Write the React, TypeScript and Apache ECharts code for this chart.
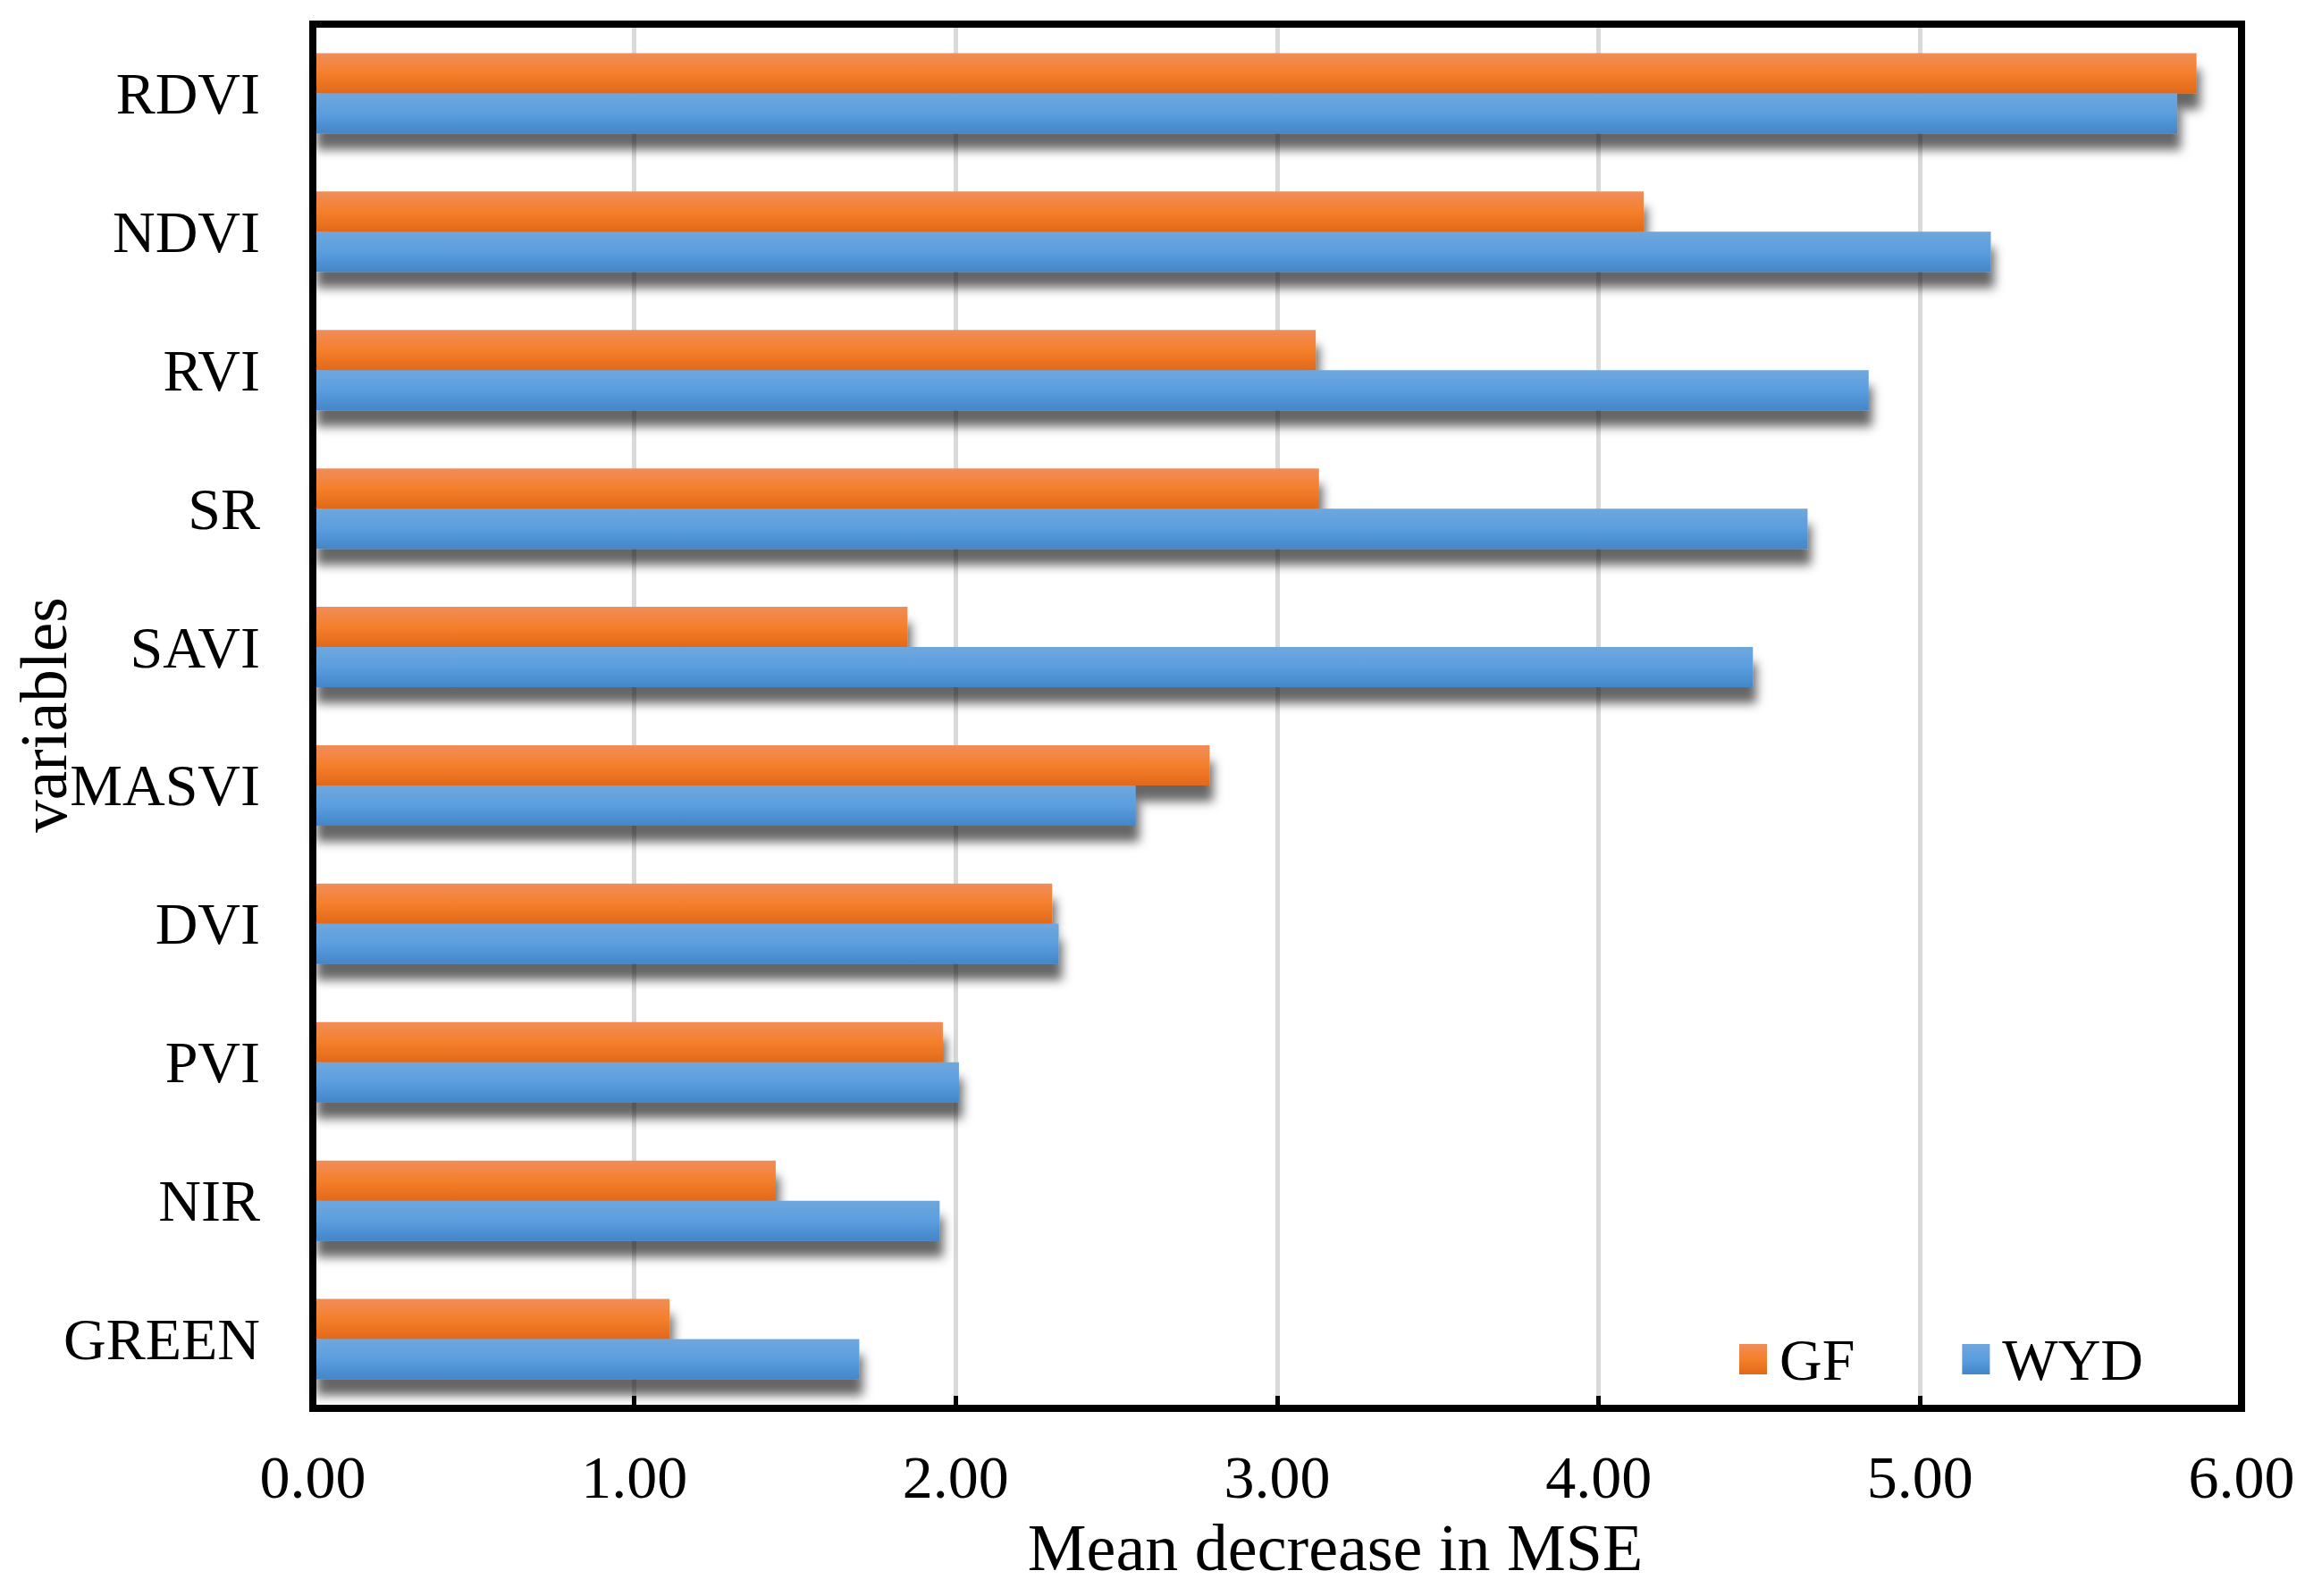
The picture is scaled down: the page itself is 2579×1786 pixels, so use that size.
import React, { useEffect, useRef } from "react";
import * as echarts from "echarts";

const categories = ["RDVI", "NDVI", "RVI", "SR", "SAVI", "MASVI", "DVI", "PVI", "NIR", "GREEN"];
const gfValues = [5.86, 4.14, 3.12, 3.13, 1.85, 2.79, 2.3, 1.96, 1.44, 1.11];
const wydValues = [5.8, 5.22, 4.84, 4.65, 4.48, 2.56, 2.32, 2.01, 1.95, 1.7];
const xTicks = { min: 0, max: 6, interval: 1 };
const seriesNames = ["GF", "WYD"];

const FONT = "'Liberation Serif', 'Times New Roman', serif";

function grad(top: string, mid: string, bottom: string) {
  return new echarts.graphic.LinearGradient(0, 0, 0, 1, [
    { offset: 0, color: top },
    { offset: 0.5, color: mid },
    { offset: 1, color: bottom },
  ]);
}

export default function App() {
  const ref = useRef<HTMLDivElement>(null);
  useEffect(() => {
    if (!ref.current) return;
    const chart = echarts.init(ref.current, undefined, { renderer: "svg" });
    const shadow = {
      shadowColor: "rgba(0,0,0,0.6)",
      shadowBlur: 12,
      shadowOffsetX: 4,
      shadowOffsetY: 18,
    };
    chart.setOption({
      animation: false,
      backgroundColor: "#fff",
      grid: {
        left: 350,
        right: 71,
        top: 27,
        bottom: 210,
        show: true,
        borderColor: "#000",
        borderWidth: 8,
        backgroundColor: "transparent",
        z: 10,
      },
      legend: {
        data: seriesNames,
        left: 1941,
        top: 1483,
        itemWidth: 31,
        itemHeight: 34,
        itemGap: 120,
        icon: "rect",
        itemStyle: { shadowBlur: 0, shadowOffsetX: 0, shadowOffsetY: 0, shadowColor: "transparent" },
        textStyle: { fontFamily: FONT, fontSize: 66, color: "#000", padding: [0, 0, 0, 9] },
      },
      xAxis: {
        type: "value",
        min: xTicks.min,
        max: xTicks.max,
        interval: xTicks.interval,
        axisLine: { show: false },
        axisTick: { show: true, inside: true, length: 14, lineStyle: { color: "#000", width: 5 } },
        splitLine: { show: true, lineStyle: { color: "#d9d9d9", width: 5 } },
        axisLabel: {
          margin: 43,
          fontFamily: FONT,
          fontSize: 68,
          color: "#000",
          formatter: (v: number) => v.toFixed(2),
        },
      },
      yAxis: {
        type: "category",
        data: categories,
        inverse: true,
        axisLine: { show: false },
        axisTick: { show: false },
        splitLine: { show: false },
        axisLabel: { margin: 59, fontFamily: FONT, fontSize: 66, color: "#000" },
      },
      series: [
        {
          name: seriesNames[0],
          type: "bar",
          data: gfValues,
          barWidth: 45,
          barGap: "0%",
          itemStyle: { color: grad("#F08D5A", "#F57F2B", "#E2681A"), ...shadow },
        },
        {
          name: seriesNames[1],
          type: "bar",
          data: wydValues,
          barWidth: 45,
          barGap: "0%",
          itemStyle: { color: grad("#6FA7DD", "#5A9EDF", "#4386C7"), ...shadow },
        },
      ],
      graphic: [
        {
          type: "text",
          x: 1494,
          y: 1732,
          style: {
            text: "Mean decrease in MSE",
            fontFamily: FONT,
            fontSize: 74,
            fill: "#000",
            align: "center",
            verticalAlign: "middle",
          },
        },
        {
          type: "text",
          x: 49,
          y: 800,
          rotation: Math.PI / 2,
          style: {
            text: "variables",
            fontFamily: FONT,
            fontSize: 73,
            fill: "#000",
            align: "center",
            verticalAlign: "middle",
          },
        },
      ],
    });
    return () => chart.dispose();
  }, []);
  return (
    <div
      ref={ref}
      style={{ position: "fixed", left: 0, top: 0, width: 2579, height: 1786, background: "#fff" }}
    />
  );
}
